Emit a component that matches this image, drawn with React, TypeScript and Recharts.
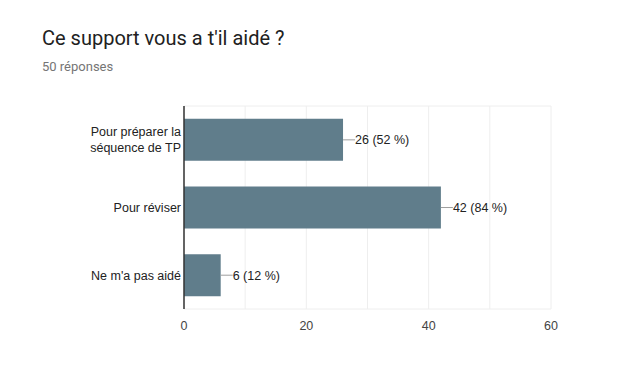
import { BarChart, Bar, XAxis, YAxis, CartesianGrid, LabelList } from 'recharts';

const categories = ['Pour préparer la\nséquence de TP', 'Pour réviser', "Ne m'a pas aidé"];
const counts = [26, 42, 6];
const percents = ['52 %', '84 %', '12 %'];
const xTicks = [0, 20, 40, 60];
const gridValues = [0, 10, 20, 30, 40, 50, 60];

const data = categories.map((name, i) => ({ name, count: counts[i], pct: percents[i] }));

const FONT = '"Liberation Sans", Arial, sans-serif';

function CategoryTick({ x, y, payload }: any) {
  const lines = String(payload.value).split('\n');
  const lh = 16;
  const start = y - ((lines.length - 1) * lh) / 2;
  return (
    <text x={x + 5} y={start} textAnchor="end" fontSize={12.5} fill="#222" fontFamily={FONT}>
      {lines.map((l, i) => (
        <tspan key={i} x={x + 5} y={start + i * lh} dy="0.35em">{l}</tspan>
      ))}
    </text>
  );
}

function ValueLabel({ x, y, width, height, index }: any) {
  const ex = x + width;
  const cy = y + height / 2;
  return (
    <g>
      <line x1={ex} y1={cy} x2={ex + 12} y2={cy} stroke="#9e9e9e" strokeWidth={1} />
      <text x={ex + 12} y={cy} dy="0.35em" fontSize={12.5} fill="#222" fontFamily={FONT}>
        {`${counts[index]} (${percents[index]})`}
      </text>
    </g>
  );
}

export default function App() {
  return (
    <div style={{ position: 'absolute', left: 0, top: 0, width: 640, height: 378, background: '#fff' }}>
      <div style={{ position: 'absolute', left: 42, top: 26, fontFamily: 'Roboto, sans-serif', fontSize: 20, color: '#212121', whiteSpace: 'nowrap' }}>
        Ce support vous a t'il aidé ?
      </div>
      <div style={{ position: 'absolute', left: 42, top: 59, fontFamily: 'Roboto, sans-serif', fontSize: 13, color: '#757575', whiteSpace: 'nowrap' }}>
        50 réponses
      </div>
      <BarChart
        width={640}
        height={378}
        data={data}
        layout="vertical"
        margin={{ top: 106, right: 89, bottom: 39, left: 0 }}
        barCategoryGap="19%"
      >
        <CartesianGrid
          stroke="#eeeeee"
          verticalCoordinatesGenerator={({ offset }: any) =>
            gridValues.map(v => offset.left + (v / 60) * offset.width)
          }
          horizontalCoordinatesGenerator={({ offset }: any) => [offset.top, offset.top + offset.height]}
        />
        <XAxis
          type="number"
          domain={[0, 60]}
          ticks={xTicks}
          axisLine={false}
          tickLine={false}
          tick={{ fontSize: 12.5, fill: '#444', fontFamily: FONT }}
          tickMargin={6}
          height={30}
        />
        <YAxis
          type="category"
          dataKey="name"
          width={184}
          axisLine={{ stroke: '#333', strokeWidth: 1.5 }}
          tickLine={false}
          tick={<CategoryTick />}
          interval={0}
        />
        <Bar dataKey="count" fill="#607d8b" isAnimationActive={false}>
          <LabelList dataKey="count" content={<ValueLabel />} />
        </Bar>
      </BarChart>
    </div>
  );
}
